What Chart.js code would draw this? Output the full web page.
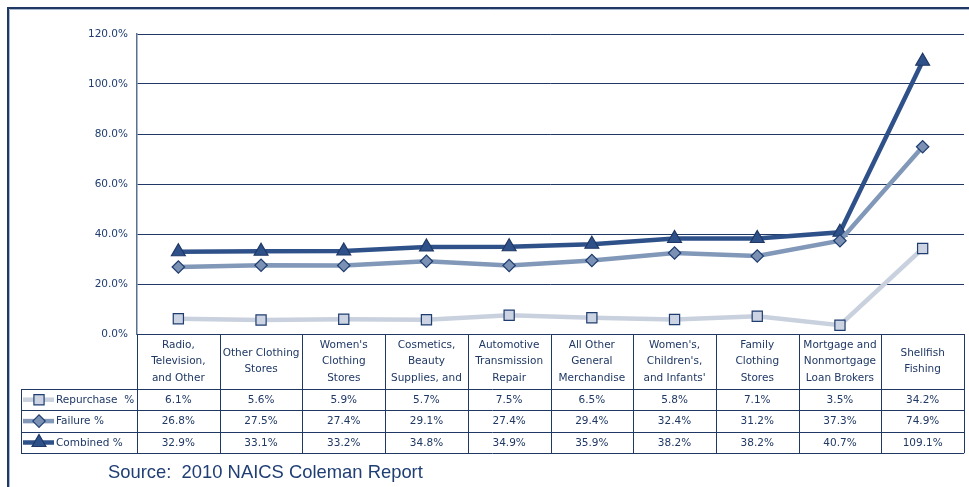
<!DOCTYPE html>
<html>
<head>
<meta charset="utf-8">
<script src="https://cdn.jsdelivr.net/npm/chart.js@4.4.1/dist/chart.umd.min.js"></script>
<style>
  html, body { margin: 0; padding: 0; background: #ffffff; }
  #wrap { position: relative; width: 969px; height: 487px; overflow: hidden; }
  #c { position: absolute; left: 0; top: 0; }
  #source { position: absolute; left: 108px; top: 461px; font-family: "Liberation Sans", Arial, sans-serif; font-size: 18.4px; line-height: 22px; color: #1f3e74; white-space: pre; }
</style>
</head>
<body>
<div id="wrap">
  <canvas id="c" width="969" height="487"></canvas>
  <div id="source">Source:  2010 NAICS Coleman Report</div>
</div>
<script>
// ---- data ----
const categories = [
  ["Radio,", "Television,", "and Other"],
  ["Other Clothing", "Stores"],
  ["Women's", "Clothing", "Stores"],
  ["Cosmetics,", "Beauty", "Supplies, and"],
  ["Automotive", "Transmission", "Repair"],
  ["All Other", "General", "Merchandise"],
  ["Women's,", "Children's,", "and Infants'"],
  ["Family", "Clothing", "Stores"],
  ["Mortgage and", "Nonmortgage", "Loan Brokers"],
  ["Shellfish", "Fishing"]
];
const repurchase = [6.1, 5.6, 5.9, 5.7, 7.5, 6.5, 5.8, 7.1, 3.5, 34.2];
const failure    = [26.8, 27.5, 27.4, 29.1, 27.4, 29.4, 32.4, 31.2, 37.3, 74.9];
const combined   = [32.9, 33.1, 33.2, 34.8, 34.9, 35.9, 38.2, 38.2, 40.7, 109.1];
const seriesNames = ["Repurchase  %", "Failure %", "Combined %"];
const yTicks = [0, 20, 40, 60, 80, 100, 120];

const NAVY = '#1f3864';
const FONT = '"DejaVu Sans", Verdana, sans-serif';

const styles = [
  { line: '#c9d1df', fill: '#ccd4e3', border: '#1f3d70', shape: 'rect', r: 7.2 },
  { line: '#8198b9', fill: '#7b91b4', border: '#1f3d70', shape: 'rectRot', r: 6.2 },
  { line: '#2f5189', fill: '#2f5189', border: '#1f3864', shape: 'triangle', r: 8 }
];
const seriesData = [repurchase, failure, combined];

const datasets = seriesData.map((d, i) => ({
  label: seriesNames[i],
  data: d,
  borderColor: styles[i].line,
  borderWidth: 4.5,
  pointStyle: styles[i].shape,
  pointRadius: styles[i].r,
  pointHoverRadius: styles[i].r,
  pointBackgroundColor: styles[i].fill,
  pointBorderColor: styles[i].border,
  pointBorderWidth: 1.2,
  tension: 0,
  fill: false,
  clip: false
}));

function drawMarker(ctx, st, x, y) {
  Chart.helpers.drawPoint(ctx, {
    pointStyle: st.shape, radius: st.r, rotation: 0, borderWidth: 1.2
  }, x, y);
}

const framePlugin = {
  id: 'frame',
  beforeDraw(chart) {
    const ctx = chart.ctx;
    ctx.save();
    ctx.fillStyle = '#ffffff';
    ctx.fillRect(0, 0, chart.width, chart.height);
    ctx.strokeStyle = '#1f3864';
    ctx.lineWidth = 2;
    ctx.beginPath();
    ctx.moveTo(8, 487);
    ctx.lineTo(8, 8);
    ctx.lineTo(969, 8);
    ctx.stroke();
    ctx.strokeStyle = '#a9b7cf';
    ctx.lineWidth = 1;
    ctx.beginPath();
    ctx.moveTo(9.5, 487);
    ctx.lineTo(9.5, 9.5);
    ctx.lineTo(969, 9.5);
    ctx.stroke();
    ctx.restore();
  }
};

const tablePlugin = {
  id: 'table',
  afterDraw(chart) {
    const ctx = chart.ctx;
    const ca = chart.chartArea;
    const xs = chart.scales.x;
    const n = categories.length;
    const colW = (ca.right - ca.left) / n;
    const top = ca.bottom;
    const hdrBot = top + 55;
    const rowH = 21.4;
    const rows = [hdrBot, hdrBot + rowH, hdrBot + 2 * rowH, hdrBot + 3 * rowH];
    const legL = 21;
    ctx.save();
    ctx.strokeStyle = NAVY;
    ctx.lineWidth = 1;
    const px = v => Math.round(v) + 0.5;
    rows.forEach(y => {
      ctx.beginPath();
      ctx.moveTo(legL, px(y));
      ctx.lineTo(ca.right, px(y));
      ctx.stroke();
    });
    for (let i = 0; i <= n; i++) {
      const x = px(ca.left + i * colW);
      ctx.beginPath();
      ctx.moveTo(x, top);
      ctx.lineTo(x, rows[3]);
      ctx.stroke();
    }
    ctx.beginPath();
    ctx.moveTo(px(legL), rows[0]);
    ctx.lineTo(px(legL), px(rows[3]));
    ctx.stroke();

    ctx.fillStyle = NAVY;
    ctx.font = '10.5px ' + FONT;
    ctx.textAlign = 'center';
    ctx.textBaseline = 'middle';
    const hdrMid = (top + hdrBot) / 2;
    const lh = 16.3;
    categories.forEach((lines, i) => {
      const cx = xs.getPixelForValue(i);
      const start = hdrMid - (lines.length - 1) * lh / 2;
      lines.forEach((t, k) => ctx.fillText(t, cx, start + k * lh));
    });
    seriesData.forEach((d, s) => {
      const cy = (rows[s] + rows[s + 1]) / 2;
      d.forEach((v, i) => {
        ctx.fillText(v.toFixed(1) + '%', xs.getPixelForValue(i), cy + 0.5);
      });
    });
    seriesData.forEach((d, s) => {
      const cy = (rows[s] + rows[s + 1]) / 2;
      const st = styles[s];
      ctx.strokeStyle = st.line;
      ctx.lineWidth = 4.5;
      ctx.beginPath();
      ctx.moveTo(23, cy);
      ctx.lineTo(54, cy);
      ctx.stroke();
      ctx.fillStyle = st.fill;
      ctx.strokeStyle = st.border;
      ctx.lineWidth = 1.2;
      drawMarker(ctx, st, 39, cy);
      ctx.fillStyle = NAVY;
      ctx.textAlign = 'left';
      ctx.fillText(seriesNames[s], 56, cy + 0.5);
    });
    ctx.restore();
  }
};

new Chart(document.getElementById('c'), {
  type: 'line',
  data: { labels: categories.map(c => c.join(' ')), datasets },
  options: {
    responsive: false,
    animation: false,
    devicePixelRatio: 1,
    layout: { autoPadding: false, padding: { left: 0, right: 5, top: 34, bottom: 153 } },
    plugins: { legend: { display: false }, tooltip: { enabled: false } },
    scales: {
      x: {
        display: false,
        offset: true
      },
      y: {
        min: 0,
        max: 120,
        afterFit(scale) { scale.width = 137; },
        afterBuildTicks(scale) { scale.ticks = yTicks.map(v => ({ value: v })); },
        ticks: {
          padding: 9,
          color: '#1f3d70',
          font: { family: FONT, size: 10.5 },
          callback: v => v.toFixed(1) + '%'
        },
        grid: { color: NAVY, lineWidth: 1, drawTicks: false },
        border: { display: true, color: '#5a6f94', width: 1.5 }
      }
    }
  },
  plugins: [framePlugin, tablePlugin]
});
</script>
</body>
</html>
